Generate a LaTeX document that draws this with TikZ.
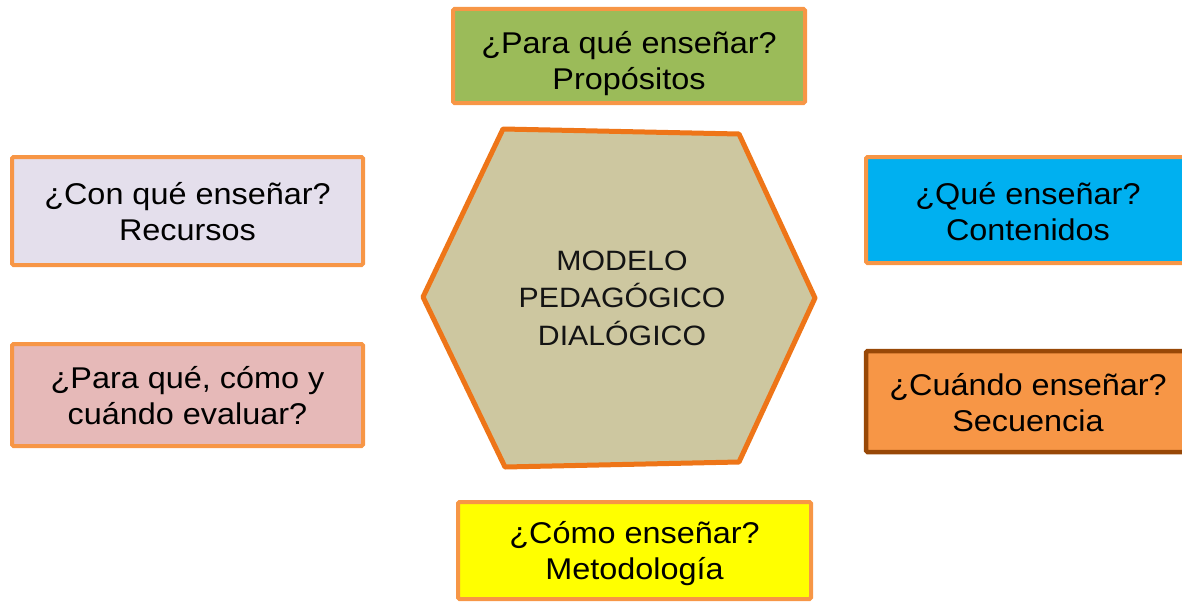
\documentclass[tikz,border=0pt]{standalone}
\usepackage{fontspec}
\setmainfont{Liberation Sans}[FakeStretch=1.08]
\definecolor{bord}{HTML}{F79646}
\definecolor{bordbrown}{HTML}{984807}
\definecolor{hexbord}{HTML}{EE7518}
\definecolor{hexfill}{HTML}{CDC7A0}
\definecolor{cgreen}{HTML}{9BBB59}
\definecolor{clav}{HTML}{E4DFEC}
\definecolor{cpink}{HTML}{E6B9B8}
\definecolor{ccyan}{HTML}{00B0F0}
\definecolor{corange}{HTML}{F79646}
\definecolor{cyellow}{HTML}{FFFF00}
\tikzset{
  qbox/.style={draw=bord, line width=4pt, rounded corners=1.5pt, inner sep=0pt},
  qtext/.style={align=center, inner sep=0pt, font=\fontsize{30}{36}\selectfont, text=black},
  hextext/.style={align=center, inner sep=0pt, font=\fontsize{28}{37.5}\selectfont, text=black!92}
}
\begin{document}
\begin{tikzpicture}[x=1pt,y=-1pt]
\useasboundingbox (0,0) rectangle (1182,602);
\clip (0,0) rectangle (1182,602);
% hexagon
\coordinate (h1) at (503,129);
\coordinate (h2) at (739,134);
\coordinate (h3) at (815,298);
\coordinate (h4) at (739,462);
\coordinate (h5) at (505,467);
\coordinate (h6) at (423,297);
\draw[hexbord, line width=5pt, fill=hexfill, line join=round] (h1) -- (h2) -- (h3) -- (h4) -- (h5) -- (h6) -- cycle;
\node[hextext] (center) at (622,298) {MODELO\\PEDAGÓGICO\\DIALÓGICO};
% boxes
\node[qbox, fill=cgreen, minimum width=352pt, minimum height=94pt] (para) at (629,56) {};
\node[qtext] (paraT) at (629,63.5) {¿Para qué enseñar?\\Propósitos};
\node[qbox, fill=clav, minimum width=351pt, minimum height=108pt] (con) at (187.5,211) {};
\node[qtext] (conT) at (187.5,212) {¿Con qué enseñar?\\Recursos};
\node[qbox, fill=cpink, minimum width=351pt, minimum height=102pt] (eval) at (187.5,395) {};
\node[qtext] (evalT) at (187.5,396) {¿Para qué, cómo y\\cuándo evaluar?};
\node[qbox, fill=ccyan, minimum width=324pt, minimum height=106pt] (que) at (1028,210) {};
\node[qtext] (queT) at (1028,212) {¿Qué enseñar?\\Contenidos};
\node[qbox, draw=bordbrown, line width=4.5pt, fill=corange, minimum width=324pt, minimum height=101pt] (cuando) at (1028,401.5) {};
\node[qtext] (cuandoT) at (1028,403) {¿Cuándo enseñar?\\Secuencia};
\node[qbox, fill=cyellow, minimum width=353pt, minimum height=97pt] (como) at (634.5,550.5) {};
\node[qtext] (comoT) at (634.5,554) {¿Cómo enseñar?\\Metodología};
\end{tikzpicture}
\end{document}
